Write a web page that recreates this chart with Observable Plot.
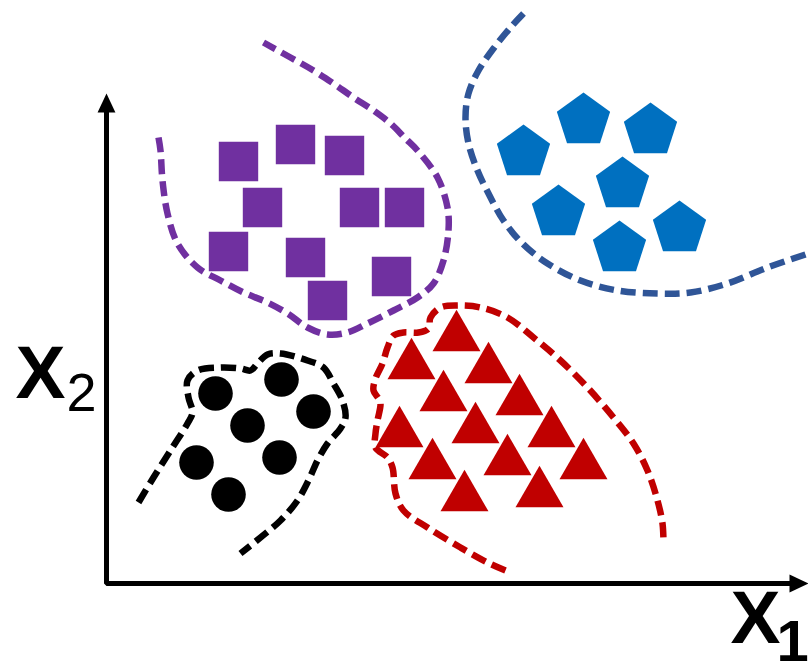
<!DOCTYPE html>
<html>
<head>
<meta charset="utf-8">
<script src="https://cdn.jsdelivr.net/npm/d3@7"></script>
<script src="https://cdn.jsdelivr.net/npm/@observablehq/plot@0.6"></script>
<style>
  html, body { margin: 0; padding: 0; background: #fff; }
  #chart svg { display: block; }
</style>
</head>
<body>
<div id="chart"></div>
<script>
// Feature space (x1, x2), origin at the axis corner.
// Cluster A: squares
const squaresX1 = [132, 189, 238, 156, 253, 298, 122, 199, 285, 221];
const squaresX2 = [422, 439, 428, 376, 376, 376, 332, 326, 307, 283];
// Cluster B: pentagons
const pentagonsX1 = [477, 544, 417, 516, 452, 573, 513];
const pentagonsX2 = [463, 453, 431, 399, 371, 355, 335];
// Cluster C: circles
const circlesX1 = [109, 175, 207, 141, 90, 173, 122];
const circlesX2 = [190, 204, 172, 158, 121, 126, 89];
// Cluster D: triangles
const trianglesX1 = [350, 305, 382, 337, 413, 293, 369, 445, 326, 401, 477, 358, 433];
const trianglesX2 = [246, 218, 214, 186, 182, 150, 154, 150, 118, 122, 118, 86, 90];

// Decision boundaries (dashed)
const boundaryA = [[52,446],[54,433],[56,403],[61,370],[71,340],[91,316],[114,303],[137,291],[161,281],[181,270],[201,256],[221,249],[241,251],[261,260],[287,273],[311,286],[327,300],[337,323],[342,353],[341,376],[331,406],[311,433],[299,445],[284,460],[267,473],[247,486],[227,500],[207,513],[184,526],[157,541]];
const boundaryB = [[417,570],[404,556],[387,535],[372,513],[362,490],[359,466],[362,440],[371,413],[382,390],[397,363],[416,340],[441,320],[474,303],[511,293],[551,290],[584,291],[621,300],[661,316],[702,330]];
const boundaryC = [[32,81],[47,106],[64,133],[81,160],[86,171],[82,186],[81,203],[91,213],[114,216],[134,215],[144,213],[151,220],[161,229],[174,230],[201,223],[217,216],[227,200],[236,183],[239,166],[234,155],[221,140],[211,123],[202,103],[191,83],[174,63],[154,46],[134,30]];
const boundaryD = [[399,13],[381,21],[354,36],[321,56],[297,73],[289,90],[286,116],[281,126],[269,136],[269,150],[271,163],[274,180],[272,185],[267,193],[269,205],[276,220],[281,236],[287,248],[297,251],[312,251],[322,255],[324,266],[334,276],[351,278],[374,276],[401,266],[427,246],[454,223],[481,196],[507,166],[527,140],[541,113],[551,83],[556,60],[557,41]];

// Axis extents and names
const axisEndX1 = 702;
const axisEndX2 = 490;
const axisNames = ["X", "X"];
const axisSubs = ["1", "2"];

const pts = (xs, ys) => xs.map((x, i) => ({x1: x, x2: ys[i]}));

// Custom symbols: r is recovered from the area Plot passes in
const radius = size => Math.sqrt(size / Math.PI);
const polygon = (n) => ({
  draw(ctx, size) {
    const r = radius(size);
    for (let i = 0; i < n; i++) {
      const a = -Math.PI / 2 + i * 2 * Math.PI / n;
      const px = r * Math.cos(a), py = r * Math.sin(a);
      i ? ctx.lineTo(px, py) : ctx.moveTo(px, py);
    }
    ctx.closePath();
  }
});
const pentagon = polygon(5);
const triangle = polygon(3);
const square = {
  draw(ctx, size) {
    const r = radius(size);
    ctx.moveTo(-r, -r); ctx.lineTo(r, -r); ctx.lineTo(r, r); ctx.lineTo(-r, r); ctx.closePath();
  }
};
// Arrowhead with its tip at the anchor point
const arrowHead = {
  draw(ctx, size) {
    const r = radius(size);
    ctx.moveTo(0, 0); ctx.lineTo(0.47 * r, r); ctx.lineTo(-0.47 * r, r); ctx.closePath();
  }
};

const boundary = (data, stroke) => Plot.line(data, {
  x: d => d[0], y: d => d[1], stroke, strokeWidth: 6.5,
  strokeDasharray: "15,7", strokeLinecap: "butt", curve: "catmull-rom", strokeLinejoin: "round"
});

const font = "Liberation Sans, Arial, Helvetica, sans-serif";
const headLen = 19;

const chart = Plot.plot({
  width: 808,
  height: 664,
  margin: 0,
  x: {domain: [-106, 702], axis: null},
  y: {domain: [-81, 583], axis: null},
  marks: [
    boundary(boundaryA, "#7030A0"),
    boundary(boundaryB, "#2F5597"),
    boundary(boundaryC, "#000000"),
    boundary(boundaryD, "#C00000"),

    Plot.dot(pts(squaresX1, squaresX2), {x: "x1", y: "x2", symbol: square, r: 19.7, fill: "#7030A0", stroke: null}),
    Plot.dot(pts(pentagonsX1, pentagonsX2), {x: "x1", y: "x2", symbol: pentagon, r: 28, fill: "#0070C0", stroke: null}),
    Plot.dot(pts(circlesX1, circlesX2), {x: "x1", y: "x2", r: 17.3, fill: "#000000", stroke: null}),
    Plot.dot(pts(trianglesX1, trianglesX2), {x: "x1", y: "x2", symbol: triangle, r: 27.7, fill: "#C00000", stroke: null}),

    // Axes with arrowheads
    Plot.line([[0, axisEndX2 - headLen + 2], [0, 0], [axisEndX1 - headLen + 2, 0]], {
      stroke: "#000", strokeWidth: 5, strokeLinejoin: "miter", strokeLinecap: "butt"
    }),
    Plot.dot([[0, axisEndX2]], {symbol: arrowHead, r: headLen, fill: "#000", stroke: null}),
    Plot.dot([[axisEndX1, 0]], {symbol: arrowHead, r: headLen, fill: "#000", stroke: null, rotate: 90}),

    // Axis names with subscripts
    Plot.text([axisNames[1]], {x: -91, y: 186, text: d => d, fontSize: 75, fontWeight: "bold", fontFamily: font, textAnchor: "start", lineAnchor: "bottom", fill: "#000"}),
    Plot.text([axisSubs[1]], {x: -40, y: 173, text: d => d, fontSize: 54, fontFamily: font, textAnchor: "start", lineAnchor: "bottom", fill: "#000"}),
    Plot.text([axisNames[0]], {x: 624, y: -59, text: d => d, fontSize: 75, fontWeight: "bold", fontFamily: font, textAnchor: "start", lineAnchor: "bottom", fill: "#000"}),
    Plot.text([axisSubs[0]], {x: 670, y: -77, text: d => d, fontSize: 58, fontWeight: "bold", fontFamily: font, textAnchor: "start", lineAnchor: "bottom", fill: "#000"})
  ]
});

document.getElementById("chart").appendChild(chart);
</script>
</body>
</html>
